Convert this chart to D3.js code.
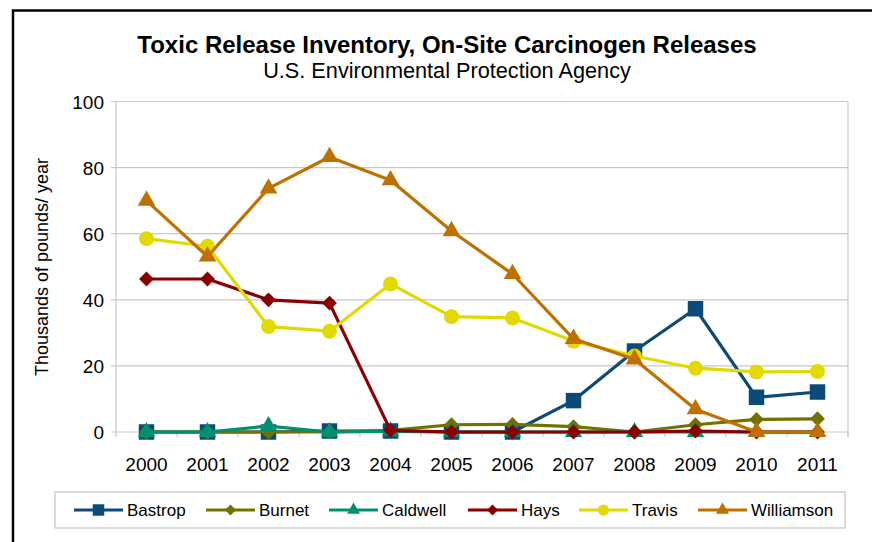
<!DOCTYPE html>
<html>
<head>
<meta charset="utf-8">
<script src="https://cdn.jsdelivr.net/npm/d3@7"></script>
<style>
body { margin: 0; background: #fff; }
text { font-family: "Liberation Sans", Arial, sans-serif; fill: #000; }
</style>
</head>
<body>
<svg id="world" width="872" height="542"></svg>
<script>
// Data
var years = ["2000", "2001", "2002", "2003", "2004", "2005", "2006", "2007", "2008", "2009", "2010", "2011"];
var yTicks = [0, 20, 40, 60, 80, 100];
var bastrop    = [0, 0, 0, 0.3, 0.3, 0, 0, 9.5, 24.5, 37.3, 10.5, 12.1];
var burnet     = [0, 0, 0, 0, 0.5, 2.2, 2.3, 1.6, 0, 2.2, 3.8, 4.0];
var caldwell   = [0, 0, 1.8, 0, 0.2, 0, 0, 0, 0, 0, 0, 0];
var hays       = [46.3, 46.3, 40, 39, 0.5, 0, 0, 0, 0, 0.3, 0, 0];
var travis     = [58.5, 56.2, 31.9, 30.5, 44.8, 34.9, 34.5, 27.5, 23, 19.3, 18.2, 18.3];
var williamson = [70, 53.1, 73.7, 83.2, 76.2, 60.8, 47.8, 28.2, 22, 6.9, 0, 0];

var names = ["Bastrop", "Burnet", "Caldwell", "Hays", "Travis", "Williamson"];
var values = [bastrop, burnet, caldwell, hays, travis, williamson];
var colors = ["#0c4a78", "#727200", "#00906e", "#8a0000", "#e2d900", "#c07000"];
var shapes = [d3.symbolSquare, d3.symbolSquare, d3.symbolTriangle, d3.symbolSquare, d3.symbolCircle, d3.symbolTriangle];
var rotate = [0, 45, 0, 45, 0, 0];
var sizes = [240, 110, 130, 110, 175, 135];

var svg = d3.select("#world");

// outer frame (runs off the right and bottom edge)
svg.append("rect").attr("x", 13).attr("y", 10.5).attr("width", 950).attr("height", 650)
    .attr("fill", "none").attr("stroke", "#000").attr("stroke-width", 2.5);

var pLeft = 116, pRight = 848, pTop = 101.5, pBottom = 432;
var x = d3.scaleBand().domain(years).range([pLeft, pRight]);
var y = d3.scaleLinear().domain([0, 100]).range([pBottom, pTop]);

// gridlines
svg.append("g").selectAll("line").data(yTicks).enter().append("line")
    .attr("x1", pLeft - 5).attr("x2", pRight)
    .attr("y1", function(d) { return y(d); }).attr("y2", function(d) { return y(d); })
    .attr("stroke", "#c8c8c8").attr("stroke-width", 1.2);

// y axis
svg.append("line").attr("x1", pLeft).attr("x2", pLeft).attr("y1", pTop).attr("y2", pBottom)
    .attr("stroke", "#c8c8c8").attr("stroke-width", 1.2);
svg.append("line").attr("x1", pRight).attr("x2", pRight).attr("y1", pTop).attr("y2", pBottom + 5)
    .attr("stroke", "#c8c8c8").attr("stroke-width", 1.2);
svg.append("g").selectAll("text").data(yTicks).enter().append("text")
    .attr("x", 104).attr("y", function(d) { return y(d) + 7; })
    .attr("text-anchor", "end").attr("font-size", "19px")
    .text(function(d) { return d; });

// x axis ticks at band edges
var edges = years.map(function(d) { return x(d); }).concat([pRight]);
svg.append("g").selectAll("line").data(edges).enter().append("line")
    .attr("x1", function(d) { return d; }).attr("x2", function(d) { return d; })
    .attr("y1", pBottom).attr("y2", pBottom + 5)
    .attr("stroke", "#c8c8c8").attr("stroke-width", 1.2);
svg.append("g").selectAll("text").data(years).enter().append("text")
    .attr("x", function(d) { return x(d) + x.bandwidth() / 2; }).attr("y", 471)
    .attr("text-anchor", "middle").attr("font-size", "19px")
    .text(function(d) { return d; });

// axis title
svg.append("text").attr("transform", "translate(48,267) rotate(-90)")
    .attr("text-anchor", "middle").attr("font-size", "18px")
    .text("Thousands of pounds/ year");

// titles
svg.append("text").attr("x", 447).attr("y", 53).attr("text-anchor", "middle")
    .attr("font-size", "24px").attr("font-weight", "bold")
    .text("Toxic Release Inventory, On-Site Carcinogen Releases");
svg.append("text").attr("x", 447).attr("y", 78).attr("text-anchor", "middle")
    .attr("font-size", "21.7px")
    .text("U.S. Environmental Protection Agency");

// series
var line = d3.line()
    .x(function(d, i) { return x(years[i]) + x.bandwidth() / 2; })
    .y(function(d) { return y(d); });

names.forEach(function(n, k) {
    var g = svg.append("g");
    g.append("path").datum(values[k]).attr("d", line)
        .attr("fill", "none").attr("stroke", colors[k]).attr("stroke-width", 3.2)
        .attr("stroke-linejoin", "round");
    g.selectAll("path.m").data(values[k]).enter().append("path").attr("class", "m")
        .attr("d", d3.symbol().type(shapes[k]).size(sizes[k]))
        .attr("transform", function(d, i) {
            return "translate(" + (x(years[i]) + x.bandwidth() / 2) + "," + y(d) + ") rotate(" + rotate[k] + ")";
        })
        .attr("fill", colors[k]);
});

// legend
svg.append("rect").attr("x", 55).attr("y", 492).attr("width", 790).attr("height", 36)
    .attr("fill", "#fff").attr("stroke", "#d0d0d0").attr("stroke-width", 1.5);
var lx = [74, 206, 329, 468, 579, 698];
names.forEach(function(n, k) {
    var g = svg.append("g").attr("transform", "translate(" + lx[k] + ",510)");
    g.append("line").attr("x1", 0).attr("x2", 49).attr("y1", 0).attr("y2", 0)
        .attr("stroke", colors[k]).attr("stroke-width", 3.2);
    g.append("path").attr("d", d3.symbol().type(shapes[k]).size(sizes[k] * 0.55))
        .attr("transform", "translate(24.5,0) rotate(" + rotate[k] + ")").attr("fill", colors[k]);
    g.append("text").attr("x", 53).attr("y", 6).attr("font-size", "17px").text(n);
});

console.log("Loaded js.");
</script>
</body>
</html>
